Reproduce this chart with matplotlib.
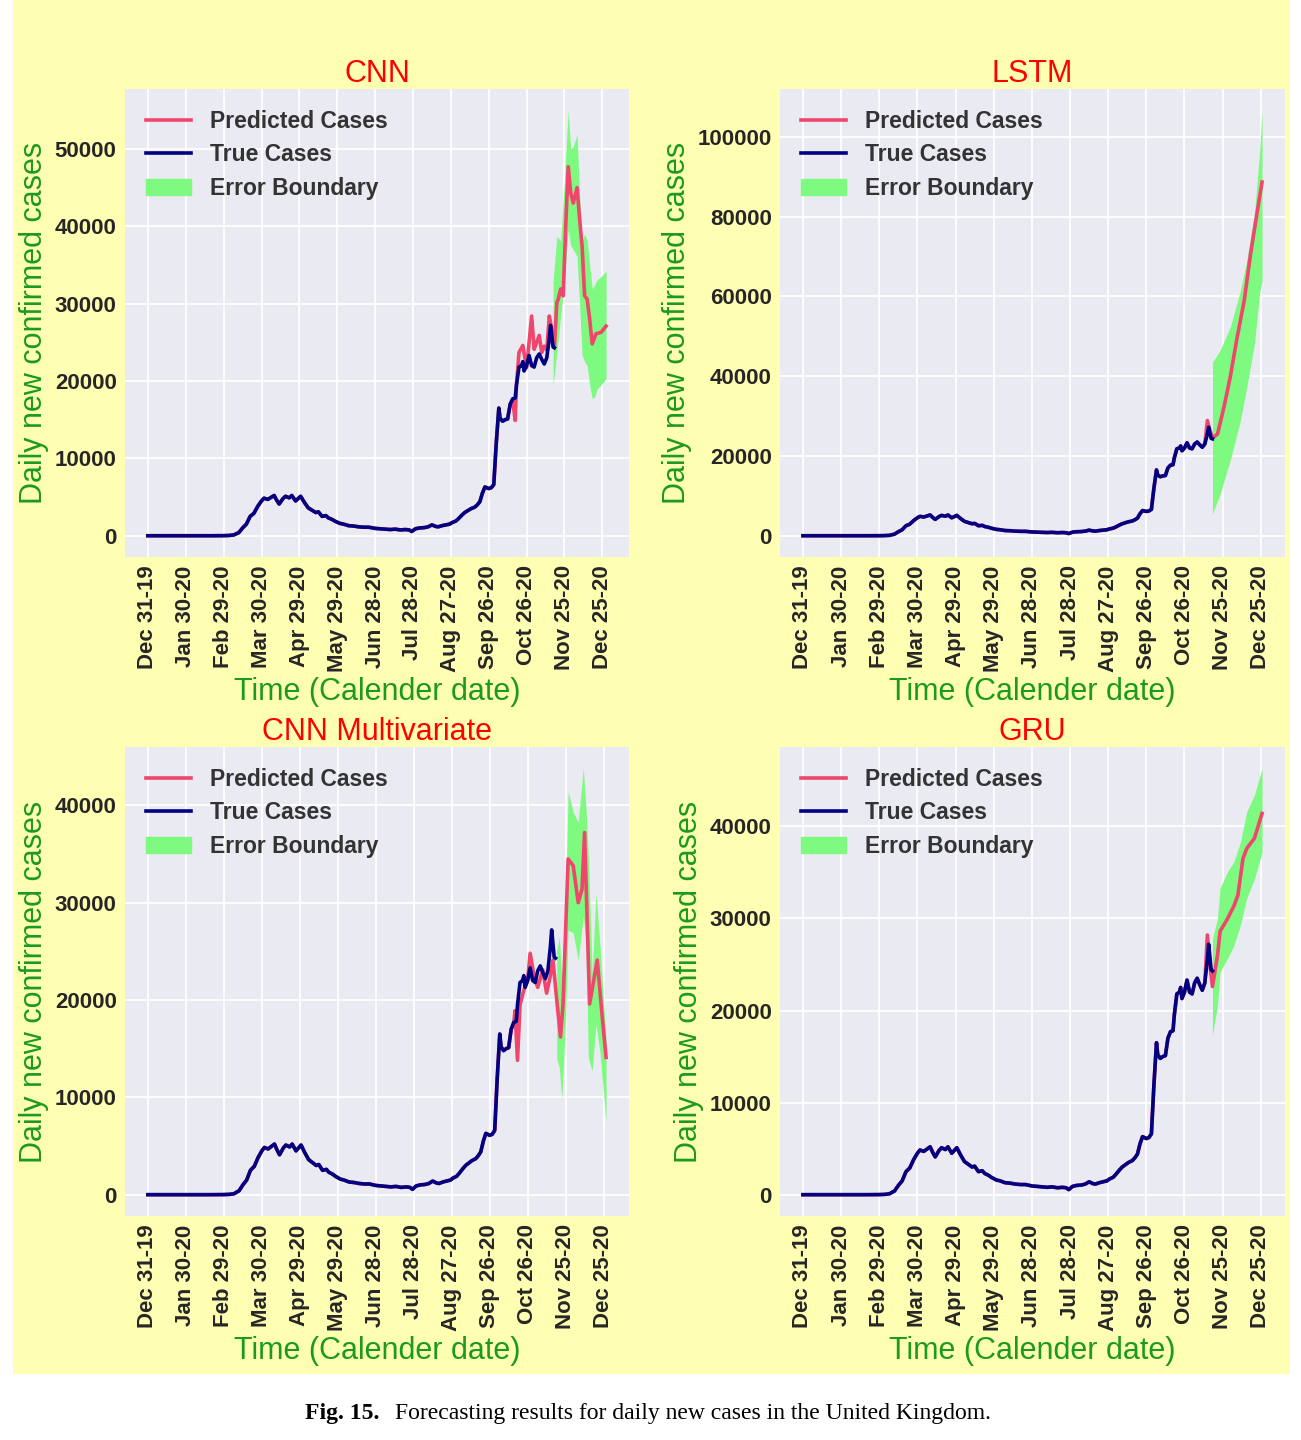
import matplotlib
matplotlib.use("Agg")
import matplotlib.pyplot as plt
import pandas as pd
from matplotlib.lines import Line2D
from matplotlib.patches import Patch, Rectangle

start = pd.Timestamp("2019-12-31")

# true daily new cases in the UK (days after Dec 31 2019)
true_days = [0, 10, 20, 30, 40, 50, 60, 64, 68, 72, 75, 78, 81, 84, 87, 90, 92, 95, 98, 100,
             102, 104, 107, 109, 112, 114, 117, 119, 121, 124, 127, 130, 133, 135, 138, 141, 143,
             146, 148, 152, 155, 159, 163, 167, 171, 175, 180, 184, 188, 192, 196, 200, 204, 207,
             209, 212, 215, 219, 222, 225, 228, 230, 233, 236, 239, 241, 244, 246, 249, 251, 253,
             256, 259, 261, 263, 265, 267, 270, 272, 274, 276, 278, 279, 281, 283, 285, 287, 289,
             291, 292, 294, 296, 297, 298, 300, 302, 304, 306, 308, 310, 312, 314, 316, 318, 319,
             321, 322]
true_cases = [0, 0, 0, 0, 0, 0, 10, 30, 100, 400, 1000, 1500, 2500, 2900, 3800, 4500, 4850, 4700,
              5000, 5200, 4600, 4100, 4800, 5100, 4900, 5200, 4500, 4800, 5100, 4300, 3600, 3300,
              3000, 3100, 2500, 2600, 2300, 2100, 1900, 1600, 1500, 1300, 1250, 1150, 1100, 1100,
              950, 900, 850, 800, 850, 750, 800, 750, 550, 900, 1000, 1050, 1150, 1400, 1200, 1150,
              1300, 1400, 1500, 1700, 1900, 2200, 2700, 3000, 3200, 3500, 3700, 4000, 4400, 5500,
              6300, 6100, 6200, 6600, 12000, 16500, 15200, 14800, 15000, 15100, 17000, 17700,
              17800, 19500, 21800, 22000, 22500, 21300, 22000, 23300, 22000, 21800, 23000, 23500,
              22800, 22200, 23000, 25500, 27200, 24400, 24300]

# CNN
cnn_split = 288
cnn_days = [289, 291, 292, 294, 297, 300, 302, 304, 306, 308, 310, 312, 314, 316, 318, 320, 322,
            324, 325, 327, 329, 331, 333, 335, 337, 340, 342, 344, 346, 348, 350, 352, 355, 359, 363]
cnn_pred = [17500, 14900, 19500, 23700, 24600, 21700, 25000, 28400, 24100, 25000, 25900, 23700,
            24500, 24000, 28400, 26600, 24300, 30200, 30500, 31900, 31000, 40000, 47700, 44300,
            43000, 45000, 41000, 37400, 31000, 30600, 28000, 24800, 26100, 26300, 27100]
cnn_band_days = [321, 324, 327, 330, 333, 335, 337, 340, 342, 344, 346, 348, 350, 352, 354, 356, 359, 363]
cnn_upper = [32800, 38700, 38100, 46000, 55000, 50000, 50300, 51800, 44000, 38100, 39000, 38200,
             35000, 31900, 32500, 33100, 33500, 34200]
cnn_lower = [19400, 23800, 28400, 33000, 39600, 37500, 37000, 36100, 30000, 23300, 22500, 22000,
             19500, 17700, 18000, 19000, 19500, 20300]

# LSTM
lstm_split = 317
lstm_days = [318, 320, 322, 326, 331, 336, 341, 347, 352, 357, 361]
lstm_pred = [28900, 26500, 24500, 25500, 32200, 39800, 49000, 59000, 70700, 80800, 88700]
lstm_band_days = [322, 328, 336, 344, 349, 355, 359, 361]
lstm_upper = [43500, 46500, 52300, 61500, 69100, 80800, 95800, 106700]
lstm_lower = [5500, 10500, 18900, 28900, 37300, 48100, 60700, 64000]

# CNN Multivariate
mv_split = 288
mv_days = [289, 290, 292, 294, 297, 300, 302, 305, 308, 312, 315, 318, 320, 323, 326, 328, 332,
           336, 340, 343, 345, 349, 355, 359, 362]
mv_pred = [17500, 18900, 13800, 19500, 21000, 22000, 24800, 22500, 21300, 23100, 20700, 22500,
           24100, 20000, 16200, 19600, 34500, 33800, 30000, 31400, 37200, 19600, 24100, 18200, 14100]
mv_band_days = [323, 325, 327, 330, 332, 336, 340, 344, 346, 348, 351, 354, 357, 362]
mv_upper = [25000, 26500, 22000, 30000, 41400, 39300, 38300, 43800, 40000, 34800, 22700, 31000,
            25800, 15800]
mv_lower = [14000, 13100, 9900, 18000, 27200, 26900, 24100, 28600, 26000, 14100, 12700, 17500,
            14800, 7500]

# GRU
gru_split = 317
gru_days = [318, 320, 322, 326, 328, 334, 339, 342, 346, 349, 355, 361]
gru_pred = [28200, 25000, 22600, 26000, 28600, 30000, 31400, 32500, 36500, 37600, 38700, 41400]
gru_band_days = [322, 326, 328, 334, 339, 344, 349, 355, 361]
gru_upper = [27800, 30000, 33300, 35100, 36200, 38300, 41600, 43400, 46300]
gru_lower = [17300, 20600, 24200, 25700, 27100, 29300, 32200, 34300, 37200]

PINK = "#f0456c"
NAVY = "#000080"
GREEN = "#7dfa7f"
TICK = "#262626"
LABEL_GREEN = "#1c9a1c"
LW = 2.6

plt.rcParams["font.family"] = ["Liberation Sans", "DejaVu Sans"]


def to_dates(days):
    return start + pd.to_timedelta(days, unit="D")


def panel(ax, title, split, p_days, p_vals, b_days, upper, lower):
    # the prediction sits on the true curve until the model's own values begin
    early_days = [d for d in true_days if d < split]
    early_vals = true_cases[:len(early_days)]
    ax.set_facecolor("#eaeaf2")
    ax.fill_between(to_dates(b_days), lower, upper, color=GREEN, linewidth=0)
    ax.plot(to_dates(early_days + p_days), early_vals + p_vals, color=PINK, lw=LW)
    ax.plot(to_dates(true_days), true_cases, color=NAVY, lw=LW)
    ticks = pd.date_range(start, periods=13, freq="30D")
    ax.set_xticks(ticks)
    ax.set_xticklabels([t.strftime("%b %d-%y") for t in ticks], rotation=90)
    ax.grid(True, color="white", lw=1.3)
    ax.set_axisbelow(True)
    for s in ax.spines.values():
        s.set_visible(False)
    ax.tick_params(length=0, pad=6, labelsize=16, colors=TICK)
    for lab in ax.get_xticklabels() + ax.get_yticklabels():
        lab.set_fontweight("bold")
    ax.set_title(title, color="red", fontsize=22, pad=4)
    ax.set_xlabel("Time (Calender date)", color=LABEL_GREEN, fontsize=22)
    ax.set_ylabel("Daily new confirmed cases", color=LABEL_GREEN, fontsize=22)
    handles = [Line2D([], [], color=PINK, lw=LW), Line2D([], [], color=NAVY, lw=LW),
               Patch(color=GREEN)]
    leg = ax.legend(handles, ["Predicted Cases", "True Cases", "Error Boundary"],
                    loc="upper left", frameon=False, labelspacing=0.47, borderaxespad=0.5,
                    prop={"weight": "bold", "size": 16.5})
    for t in leg.get_texts():
        t.set_color("#333333")


W, H = 1301, 1440
fig = plt.figure(figsize=(W / 100, H / 100), dpi=100)
fig.patch.set_facecolor("white")
fig.add_artist(Rectangle((13 / W, 1 - 1374 / H), (1290 - 13) / W, 1374 / H,
                         transform=fig.transFigure, facecolor="#ffffb4", edgecolor="none", zorder=-5))

ax1 = fig.add_axes([125 / W, 1 - 557 / H, 504 / W, 468 / H])
ax2 = fig.add_axes([780 / W, 1 - 557 / H, 505 / W, 468 / H])
ax3 = fig.add_axes([125 / W, 1 - 1216 / H, 504 / W, 469 / H])
ax4 = fig.add_axes([780 / W, 1 - 1216 / H, 505 / W, 469 / H])

panel(ax1, "CNN", cnn_split, cnn_days, cnn_pred, cnn_band_days, cnn_upper, cnn_lower)
panel(ax2, "LSTM", lstm_split, lstm_days, lstm_pred, lstm_band_days, lstm_upper, lstm_lower)
panel(ax3, "CNN Multivariate", mv_split, mv_days, mv_pred, mv_band_days, mv_upper, mv_lower)
panel(ax4, "GRU", gru_split, gru_days, gru_pred, gru_band_days, gru_upper, gru_lower)

fig.text(305 / W, 1 - 1414 / H, "Fig. 15.", fontsize=17, fontweight="bold",
         family=["Liberation Serif", "DejaVu Serif"], va="center", ha="left")
fig.text(395 / W, 1 - 1414 / H, "Forecasting results for daily new cases in the United Kingdom.",
         fontsize=17, family=["Liberation Serif", "DejaVu Serif"], va="center", ha="left")

fig.savefig("out.png", dpi=100)
